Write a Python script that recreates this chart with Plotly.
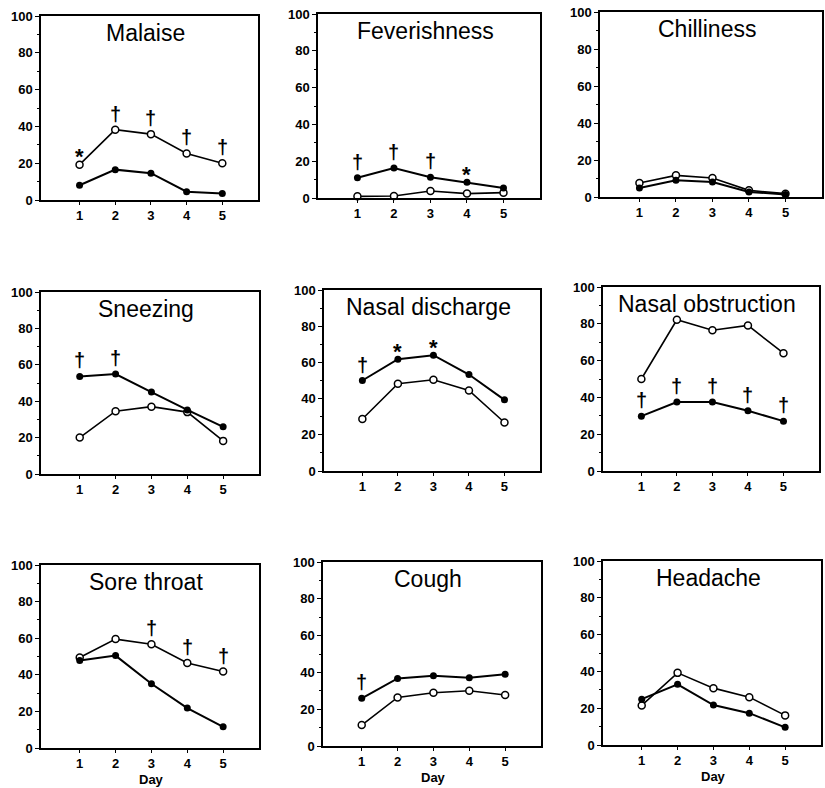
import plotly.graph_objects as go

days = [1, 2, 3, 4, 5]
day_labels = ["1", "2", "3", "4", "5"]
titles = ["Malaise", "Feverishness", "Chilliness",
          "Sneezing", "Nasal discharge", "Nasal obstruction",
          "Sore throat", "Cough", "Headache"]

# open-circle series
malaise_open = [19.2, 38.2, 35.8, 25.3, 20.0]
feverishness_open = [0.9, 1.1, 3.8, 2.4, 2.9]
chilliness_open = [7.6, 11.7, 10.3, 3.6, 1.8]
sneezing_open = [20.0, 34.5, 37.0, 34.0, 18.2]
nasal_discharge_open = [28.7, 48.2, 50.4, 44.5, 26.8]
nasal_obstruction_open = [50.0, 82.2, 76.5, 79.1, 64.0]
sore_throat_open = [49.5, 59.5, 56.7, 46.5, 41.8]
cough_open = [11.4, 26.4, 28.9, 30.0, 27.7]
headache_open = [21.5, 39.2, 30.9, 26.0, 16.1]

# filled-circle series
malaise_filled = [8.0, 16.5, 14.6, 4.5, 3.6]
feverishness_filled = [11.0, 16.3, 11.3, 8.5, 5.4]
chilliness_filled = [4.9, 9.0, 8.1, 2.7, 1.4]
sneezing_filled = [53.6, 54.9, 45.0, 35.2, 25.9]
nasal_discharge_filled = [50.0, 61.8, 64.0, 53.3, 39.3]
nasal_obstruction_filled = [29.8, 37.5, 37.5, 32.7, 27.1]
sore_throat_filled = [47.8, 50.5, 35.1, 21.8, 11.6]
cough_filled = [25.9, 36.7, 38.2, 37.1, 39.0]
headache_filled = [24.9, 33.0, 21.7, 17.3, 9.6]

# significance marks: (day, symbol, series the mark sits above)
malaise_marks = [(1, "*", "open"), (2, "†", "open"), (3, "†", "open"), (4, "†", "open"), (5, "†", "open")]
feverishness_marks = [(1, "†", "filled"), (2, "†", "filled"), (3, "†", "filled"), (4, "*", "filled")]
chilliness_marks = []
sneezing_marks = [(1, "†", "filled"), (2, "†", "filled")]
nasal_discharge_marks = [(1, "†", "filled"), (2, "*", "filled"), (3, "*", "filled")]
nasal_obstruction_marks = [(d, "†", "filled") for d in days]
sore_throat_marks = [(3, "†", "open"), (4, "†", "open"), (5, "†", "open")]
cough_marks = [(1, "†", "filled")]
headache_marks = []

y_ticks = [0, 20, 40, 60, 80, 100]
y_tick_labels = ["0", "20", "40", "60", "80", "100"]
x_title = "Day"

open_series = [malaise_open, feverishness_open, chilliness_open, sneezing_open,
               nasal_discharge_open, nasal_obstruction_open, sore_throat_open,
               cough_open, headache_open]
filled_series = [malaise_filled, feverishness_filled, chilliness_filled, sneezing_filled,
                 nasal_discharge_filled, nasal_obstruction_filled, sore_throat_filled,
                 cough_filled, headache_filled]
marks = [malaise_marks, feverishness_marks, chilliness_marks, sneezing_marks,
         nasal_discharge_marks, nasal_obstruction_marks, sore_throat_marks,
         cough_marks, headache_marks]

W, H = 825, 788
# plot boxes in window pixels: left, right, top, bottom
boxes = [
    (41, 258, 16, 200), (318, 540, 14, 198), (600, 822, 12, 197),
    (41, 259, 292, 474), (324, 540, 290, 471), (603, 819, 287, 471),
    (41, 259, 565, 748), (323, 541, 562, 746), (603, 821, 561, 745),
]

FONT = "Liberation Sans, Arial, Helvetica, sans-serif"
fig = go.Figure()
layout = dict(width=W, height=H, autosize=False, template="none",
              margin=dict(l=0, r=0, t=0, b=0, pad=0), showlegend=False,
              paper_bgcolor="white", plot_bgcolor="white",
              font=dict(family=FONT, color="black"))
annotations = []


def px(x):
    return x / W


def py(y):
    return 1 - y / H


for i in range(9):
    n = "" if i == 0 else str(i + 1)
    xa, ya = "x" + n, "y" + n
    l, r, t, b = boxes[i]
    axis_common = dict(showline=True, linecolor="black", linewidth=1.5, mirror=True,
                       showgrid=False, zeroline=False, ticks="outside", tickcolor="black",
                       tickwidth=1.2, automargin=False, ticklabeloverflow="allow",
                       tickfont=dict(family=FONT, size=13, color="black"))
    layout["xaxis" + n] = dict(axis_common, domain=[px(l), px(r)], anchor=ya,
                               range=[-0.08, 6], tickvals=days,
                               ticktext=["<b>%s</b>" % s for s in day_labels], ticklen=3)
    layout["yaxis" + n] = dict(axis_common, domain=[py(b), py(t)], anchor=xa,
                               range=[0, 100], tickvals=y_ticks,
                               ticktext=["<b>%s</b>" % s for s in y_tick_labels], ticklen=4,
                               minor=dict(dtick=10, ticks="outside", ticklen=2,
                                          tickcolor="black", tickwidth=1))
    fig.add_trace(go.Scatter(x=days, y=open_series[i], mode="lines+markers",
                             line=dict(color="black", width=1.6),
                             marker=dict(size=7, color="white", line=dict(color="black", width=1.5)),
                             xaxis=xa, yaxis=ya, cliponaxis=False))
    fig.add_trace(go.Scatter(x=days, y=filled_series[i], mode="lines+markers",
                             line=dict(color="black", width=2),
                             marker=dict(size=7, color="black"),
                             xaxis=xa, yaxis=ya, cliponaxis=False))
    annotations.append(dict(text=titles[i], xref="paper", yref="paper",
                            x=px((l + r) / 2 - 4), y=py(t + 17),
                            xanchor="center", yanchor="middle", showarrow=False,
                            font=dict(family=FONT, size=23, color="black")))
    if i >= 6:
        annotations.append(dict(text="<b>%s</b>" % x_title, x=3, xref=xa, yref="paper",
                                y=py(b + 31), xanchor="center", yanchor="middle",
                                showarrow=False,
                                font=dict(family=FONT, size=13, color="black")))
    for day, sym, which in marks[i]:
        val = (open_series[i] if which == "open" else filled_series[i])[day - 1]
        if sym == "†":
            annotations.append(dict(text="<b>%s</b>" % sym, x=day, y=val, xref=xa, yref=ya,
                                    yanchor="middle", yshift=16, showarrow=False,
                                    font=dict(family=FONT, size=20, color="black")))
        else:
            annotations.append(dict(text="<b>%s</b>" % sym, x=day, y=val, xref=xa, yref=ya,
                                    yanchor="middle", yshift=8, showarrow=False,
                                    font=dict(family=FONT, size=22, color="black")))

layout["annotations"] = annotations
fig.update_layout(**layout)
fig.write_html("out.html", config={"displayModeBar": False},
               post_script="document.body.style.margin='0';document.body.style.overflow='hidden';")
